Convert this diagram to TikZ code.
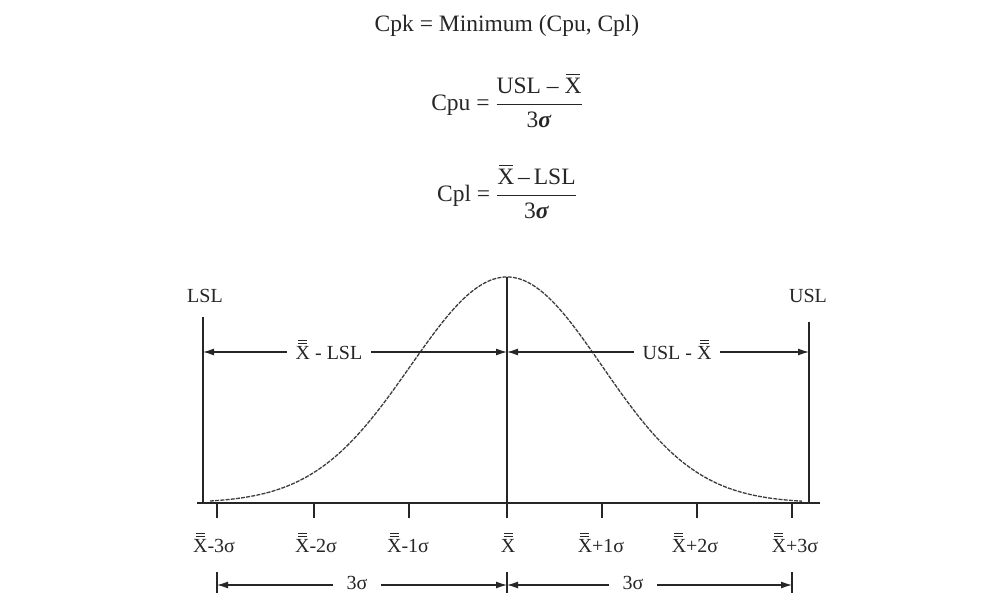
\documentclass[tikz,border=0pt]{standalone}
\usepackage{fontspec}
\setmainfont{Liberation Serif}
\usetikzlibrary{arrows.meta}
\newcommand{\xbarone}{\leavevmode\vbox{\offinterlineskip\halign{\hfil##\hfil\cr\rule{0.6em}{0.05em}\cr\noalign{\kern0.12em}X\cr}}}
\newcommand{\xbartwo}{\leavevmode\vbox{\offinterlineskip\halign{\hfil##\hfil\cr\rule{0.45em}{0.06em}\cr\noalign{\kern0.07em}\rule{0.45em}{0.06em}\cr\noalign{\kern0.1em}X\cr}}}
\newcommand{\bsig}{\textbf{\textit{σ}}}
\definecolor{ink}{HTML}{262626}
\definecolor{curvecol}{HTML}{3C3C3C}
\tikzset{
  ln/.style={draw=ink, line width=1.2pt},
  dim/.style={draw=ink, line width=1.2pt, {Latex[length=11pt,width=7pt]}-{Latex[length=11pt,width=7pt]}},
  gaplabel/.style={fill=white, inner xsep=9pt, inner ysep=0pt, text=ink, font=\fontsize{20}{22}\selectfont, anchor=base},
  ticklabel/.style={text=ink, font=\fontsize{20}{22}\selectfont, anchor=base, inner sep=0pt},
  speclabel/.style={text=ink, font=\fontsize{20}{22}\selectfont, inner sep=0pt},
  formula/.style={text=ink, font=\fontsize{23.5}{26}\selectfont, inner sep=0pt},
  bell/.style={draw=curvecol, line width=1.3pt, dash pattern=on 4pt off 1.2pt}
}
\begin{document}
\begin{tikzpicture}[x=1pt,y=-1pt]
\useasboundingbox (0,0) rectangle (992,593);
% formulas
\node[formula, anchor=base] (cpk) at (507,32) {Cpk = Minimum (Cpu, Cpl)};
\node[formula] (cpu) at (507,101) {Cpu = $\displaystyle\frac{\mbox{USL -- \xbarone}}{\mbox{3\bsig}}$};
\node[formula] (cpl) at (507,192) {Cpl = $\displaystyle\frac{\mbox{\xbarone\,--\,LSL}}{\mbox{3\bsig}}$};
% coordinates
\coordinate (lslTop) at (203,317);
\coordinate (lslBot) at (203,503);
\coordinate (uslTop) at (809,322);
\coordinate (uslBot) at (809,503);
\coordinate (peak) at (507,277);
\coordinate (ctrBot) at (507,518);
\coordinate (baseL) at (197,503);
\coordinate (baseR) at (820,503);
% spec labels
\node[speclabel] (lsl) at (205,296) {LSL};
\node[speclabel] (usl) at (808,296) {USL};
% curve
\draw[bell] plot[domain=210:507, samples=90, smooth] (\x,{503-226*exp(-0.5*((\x-507)/96.5)^2)})
            -- plot[domain=507:802, samples=90, smooth] (\x,{503-226*exp(-0.5*((\x-507)/95)^2)});
% axis and spec lines
\draw[ln] (baseL) -- (baseR);
\draw[ln] (lslTop) -- (lslBot);
\draw[ln] (uslTop) -- (uslBot);
\draw[ln] (peak) -- (ctrBot);
% ticks
\foreach \n/\xx in {m3/217, m2/314, m1/409, p1/602, p2/697, p3/792}{
  \coordinate (t\n) at (\xx,503);
  \coordinate (b\n) at (\xx,518);
  \draw[ln] (t\n) -- (b\n);
}
\node[ticklabel] (lm3) at (214,552) {\xbartwo-3σ};
\node[ticklabel] (lm2) at (316,552) {\xbartwo-2σ};
\node[ticklabel] (lm1) at (408,552) {\xbartwo-1σ};
\node[ticklabel] (l0)  at (508,552) {\xbartwo};
\node[ticklabel] (lp1) at (601,552) {\xbartwo+1σ};
\node[ticklabel] (lp2) at (695,552) {\xbartwo+2σ};
\node[ticklabel] (lp3) at (795,552) {\xbartwo+3σ};
% upper dimension lines
\coordinate (dL) at (203,352);
\coordinate (dC) at (507,352);
\coordinate (dR) at (809,352);
\draw[dim] (dL) -- (dC);
\draw[dim] (dC) -- (dR);
\node[gaplabel] (xl) at (329,359) {\xbartwo\ - LSL};
\node[gaplabel] (ux) at (677,359) {USL - \xbartwo};
% lower dimension lines
\coordinate (eL) at (217,585);
\coordinate (eC) at (507,585);
\coordinate (eR) at (792,585);
\coordinate (eLt) at (217,572);
\coordinate (eCt) at (507,572);
\coordinate (eRt) at (792,572);
\coordinate (eLb) at (217,593);
\coordinate (eCb) at (507,593);
\coordinate (eRb) at (792,593);
\draw[ln] (eLt) -- (eLb);
\draw[ln] (eCt) -- (eCb);
\draw[ln] (eRt) -- (eRb);
\draw[dim] (eL) -- (eC);
\draw[dim] (eC) -- (eR);
\node[gaplabel, font=\fontsize{20}{22}\selectfont, inner xsep=14pt] (s1) at (357,589) {3σ};
\node[gaplabel, font=\fontsize{20}{22}\selectfont, inner xsep=14pt] (s2) at (633,589) {3σ};
\end{tikzpicture}
\end{document}
